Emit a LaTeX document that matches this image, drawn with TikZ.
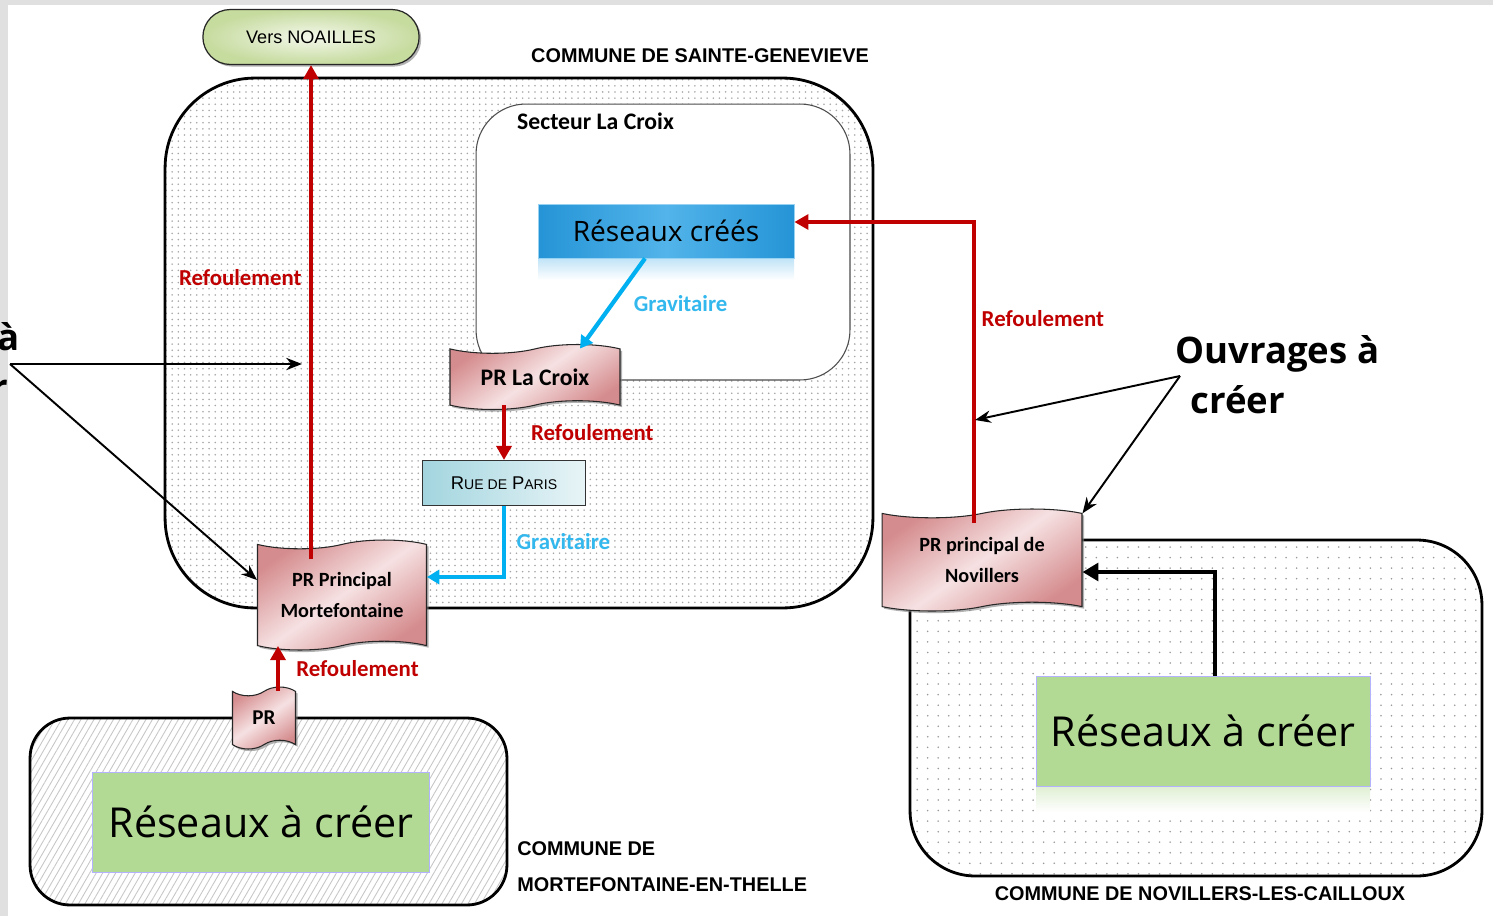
\documentclass[tikz,border=0pt]{standalone}
\usepackage{fontspec}
\setmainfont{Carlito}
\newfontfamily\osans{Open Sans}
\newfontfamily\lsans{Liberation Sans}
\usetikzlibrary{arrows.meta,shapes.symbols,shapes.misc,patterns.meta,shadows}

\definecolor{refred}{HTML}{C00000}
\definecolor{gravblue}{HTML}{00B0F0}
\definecolor{gravtext}{HTML}{33B8EE}
\definecolor{rcdark}{HTML}{2594D6}
\definecolor{rclight}{HTML}{52B4EA}
\definecolor{prdark}{HTML}{D58C8E}
\definecolor{prlight}{HTML}{F6E1E2}
\definecolor{creergreen}{HTML}{B3DA95}
\definecolor{ruedark}{HTML}{A3D5DF}
\definecolor{noadark}{HTML}{C6DB9E}

\begin{document}
\begin{tikzpicture}[x=0.02cm,y=-0.02cm,
    commune/.style={draw,line width=1.6pt,rectangle,inner sep=0pt},
    pr node/.style={tape,draw=black!85,line width=0.6pt,inner sep=2pt,
      top color=prdark,bottom color=prdark,middle color=prlight,shading angle=35,
      drop shadow={shadow xshift=1.2pt,shadow yshift=-1.2pt,opacity=0.6},
      font=\fontsize{11.5}{17.5}\selectfont\bfseries,align=center},
    creer/.style={rectangle,draw=blue!30,line width=0.5pt,fill=creergreen,
      font=\osans\fontsize{23.5}{28}\selectfont},
    refoul/.style={-{Triangle[length=8pt,width=8.5pt]},refred,line width=2.8pt},
    grav/.style={-{Triangle[length=7pt,width=8pt]},gravblue,line width=2.4pt},
    noir/.style={-{Triangle[length=9pt,width=10pt]},black,line width=2.6pt},
    ouvrage/.style={-{Stealth[length=9pt,width=7pt]},line width=1.1pt},
    reflabel/.style={text=refred,font=\fontsize{13}{15}\selectfont\bfseries,inner sep=1pt},
    gravlabel/.style={text=gravtext,font=\fontsize{13}{15}\selectfont\bfseries,inner sep=1pt},
    titre/.style={font=\lsans\fontsize{11.3}{13}\selectfont\bfseries,inner sep=0pt}]

  \useasboundingbox (0,0) rectangle (1493,916);
  \clip (0,0) rectangle (1493,916);
  \fill[black!12] (0,0) rectangle (1493,916);
  \fill[white] (8,5) rectangle (1493,916);

  % communes
  \node[commune,rounded corners=1.8cm,minimum width=14.16cm,minimum height=10.6cm,
    pattern={Dots[distance=3.5pt,radius=0.5pt]},pattern color=black!35] (sg) at (519,343) {};
  \node[titre,anchor=base] at (700,62) {COMMUNE DE SAINTE-GENEVIEVE};

  \node[commune,rounded corners=0.8cm,minimum width=9.54cm,minimum height=3.74cm,
    pattern={Lines[angle=60,distance=3.2pt,line width=0.5pt]},pattern color=black!22] (mb) at (268.5,811.5) {};
  \node[titre,anchor=base west] at (517,855) {COMMUNE DE};
  \node[titre,anchor=base west] at (517,891) {MORTEFONTAINE-EN-THELLE};

  \node[commune,rounded corners=1.3cm,minimum width=11.44cm,minimum height=6.72cm,
    pattern={Dots[distance=6pt,radius=0.5pt]},pattern color=black!40] (nb) at (1196,708) {};
  \node[titre,anchor=base] at (1200,900) {COMMUNE DE NOVILLERS-LES-CAILLOUX};

  % secteur La Croix
  \node[commune,line width=0.6pt,draw=black!70,fill=white,rounded corners=1cm,
    minimum width=7.48cm,minimum height=5.52cm] (lc) at (663,242) {};
  \node[anchor=base west,font=\fontsize{13.5}{16}\selectfont\bfseries] (lct) at (511,129) {Secteur La Croix};

  \fill[top color=rclight!35,bottom color=white] (538,259) rectangle (794,280);
  \node[rectangle,left color=rcdark,right color=rcdark,middle color=rclight,draw=rclight!60,
    line width=0.5pt,minimum width=5.12cm,minimum height=1.08cm,
    font=\osans\fontsize{16}{19}\selectfont] (rc) at (666,231) {Réseaux créés};

  \node[pr node,minimum width=3.4cm,minimum height=1.3cm,
    font=\fontsize{13.5}{16}\selectfont\bfseries] (plc) at (535,377) {PR La Croix};
  \node[rectangle,draw=black!80,line width=0.6pt,left color=ruedark,right color=ruedark!25!white,
    minimum width=3.26cm,minimum height=0.9cm,font=\lsans] (rue) at (504,483)
    {{\fontsize{10.5}{12}\selectfont R}{\fontsize{8}{12}\selectfont UE DE} {\fontsize{10.5}{12}\selectfont P}{\fontsize{8}{12}\selectfont ARIS}};

  \node[pr node,minimum width=3.38cm,minimum height=2.2cm] (prm) at (342,595) {PR Principal\\Mortefontaine};
  \node[pr node,minimum width=1.26cm,minimum height=1.24cm,
    font=\fontsize{12}{14}\selectfont\bfseries] (prs) at (264,718) {PR};
  \node[pr node,minimum width=4cm,minimum height=2.04cm] (prn) at (982,560) {PR principal de\\Novillers};

  \node[creer,minimum width=6.74cm,minimum height=2cm] (mra) at (261,822) {Réseaux à créer};
  \fill[top color=creergreen!40,bottom color=white] (1036,787) rectangle (1370,812);
  \node[creer,minimum width=6.68cm,minimum height=2.2cm] (nra) at (1203,731) {Réseaux à créer};

  \node[rounded rectangle,draw=black!85,line width=0.7pt,inner color=noadark!20!white,outer color=noadark,
    drop shadow={shadow xshift=1.2pt,shadow yshift=-1.2pt,opacity=0.6},
    minimum width=4.56cm,minimum height=1.1cm,font=\lsans\fontsize{10.3}{12}\selectfont] (noa) at (311,37) {Vers NOAILLES};

  % liaisons
  \draw[refoul] ([yshift=-0.3cm]prm.north -| noa.south) -- (noa.south)
    node[reflabel,pos=0.57,left=3pt] {Refoulement};
  \draw[refoul] ([xshift=-0.16cm,yshift=-0.2cm]prn.north) |- ([yshift=0.18cm]rc.east)
    node[reflabel,pos=0.34,right=2pt] {Refoulement};
  \draw[grav] ([xshift=-0.42cm]rc.south) -- ([xshift=0.9cm]plc.north)
    node[gravlabel,midway,right=10pt] {Gravitaire};
  \draw[refoul] (plc.south -| rue.north) -- (rue.north)
    node[reflabel,midway,right=13pt] {Refoulement};
  \draw[grav] (rue.south) |- ([yshift=0.36cm]prm.east)
    node[gravlabel,pos=0.25,right=5pt] {Gravitaire};
  \draw[refoul] ([xshift=0.28cm]prs.north) -- ([xshift=0.28cm]prs.north |- prm.south)
    node[reflabel,midway,right=8pt] {Refoulement};
  \draw[noir] ([xshift=0.24cm]nra.north) |- ([yshift=-0.24cm]prn.east);

  % ouvrages a creer
  \node[font=\osans\bfseries\fontsize{20.8}{28.5}\selectfont,align=left,anchor=north west,inner sep=0pt]
    (ouv) at (1175,335) {Ouvrages à\\\hspace*{0.3cm}créer};
  \coordinate (ovr) at (1180,376);
  \coordinate (rn) at (975,420);
  \draw[ouvrage] (ovr) -- (rn);
  \draw[ouvrage] (ovr) -- (prn.north east);

  \node[font=\osans\bfseries\fontsize{20.8}{28.5}\selectfont,align=right,anchor=north east,inner sep=0pt]
    (ouvl) at (20,322) {Ouvrages à\\créer\hspace*{0.24cm}};
  \coordinate (ovl) at (10,364);
  \coordinate (rg) at (302,364);
  \draw[ouvrage] (ovl) -- (rg);
  \draw[ouvrage] (ovl) -- ([yshift=0.3cm]prm.west);
\end{tikzpicture}
\end{document}
